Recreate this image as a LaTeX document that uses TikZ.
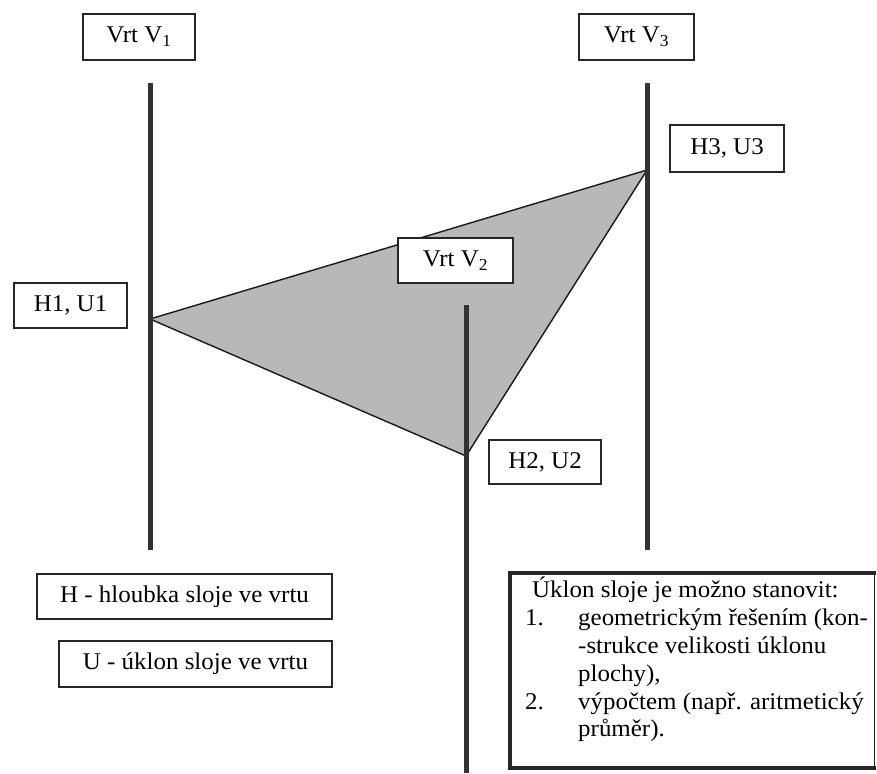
\documentclass[tikz,border=0pt]{standalone}
\usepackage{fontspec}
\setmainfont[FakeStretch=1.04]{Liberation Serif}
\begin{document}
\begin{tikzpicture}[x=1pt,y=-1pt,
  lbl/.style={draw=black!85, line width=1.3pt, fill=white, inner sep=0pt, font=\fontsize{24}{28}\selectfont},
  well/.style={line width=5pt, draw=black!80},
  tri/.style={fill=black!28, draw=black!90, line width=1.4pt, line join=miter},
  note/.style={font=\fontsize{24}{27.8}\selectfont, align=left, inner sep=0pt, anchor=north west},
]
\useasboundingbox (0,0) rectangle (877,773);
% vertices of the seam plane
\coordinate (p1) at (150,319);
\coordinate (p3) at (647,170);
\coordinate (p2) at (466,456);
\draw[tri] (p1) -- (p3) -- (p2) -- cycle;
% wells
\coordinate (w1t) at (150,83);
\coordinate (w1b) at (150,550);
\coordinate (w3t) at (647,83);
\coordinate (w3b) at (647,550);
\coordinate (w2t) at (466,305);
\coordinate (w2b) at (466,773);
\draw[well] (w1t) -- (w1b);
\draw[well] (w3t) -- (w3b);
\draw[well] (w2t) -- (w2b);
% labels
\node[lbl, minimum width=112, minimum height=46] (v1) at (139,37) {Vrt V\textsubscript{1}};
\node[lbl, minimum width=115, minimum height=46] (v3) at (636.5,37) {Vrt V\textsubscript{3}};
\node[lbl, minimum width=115, minimum height=45] (v2) at (455.5,260.5) {Vrt V\textsubscript{2}};
\node[lbl, minimum width=113, minimum height=45] (h1) at (70.5,305.5) {H1, U1};
\node[lbl, minimum width=114, minimum height=47] (h3) at (727,148.5) {H3, U3};
\node[lbl, minimum width=112, minimum height=44] (h2) at (545,462) {H2, U2};
\node[lbl, minimum width=295, minimum height=45] (hh) at (184.5,596.5) {H - hloubka sloje ve vrtu};
\node[lbl, minimum width=273, minimum height=46] (uu) at (195.5,664) {U - úklon sloje ve vrtu};
% note box
\coordinate (nbl) at (510,768);
\coordinate (ntl) at (510,573);
\coordinate (ntr) at (874,573);
\coordinate (nbr) at (874,768);
\draw[black!85, line width=1pt] (ntr) -- (nbr);
\draw[black!85, line width=4.5pt, line cap=rect] (nbr) -- (nbl) -- (ntl) -- (ntr);
\node[note] (nt) at (525,577) {\hspace*{7pt}Úklon sloje je možno stanovit:\\
\makebox[53pt][l]{1.}geometrickým řešením (kon-\\
\hspace*{53pt}-strukce velikosti úklonu\\
\hspace*{53pt}plochy),\\
\makebox[53pt][l]{2.}výpočtem (např. aritmetický\\
\hspace*{53pt}průměr).};
\end{tikzpicture}
\end{document}
